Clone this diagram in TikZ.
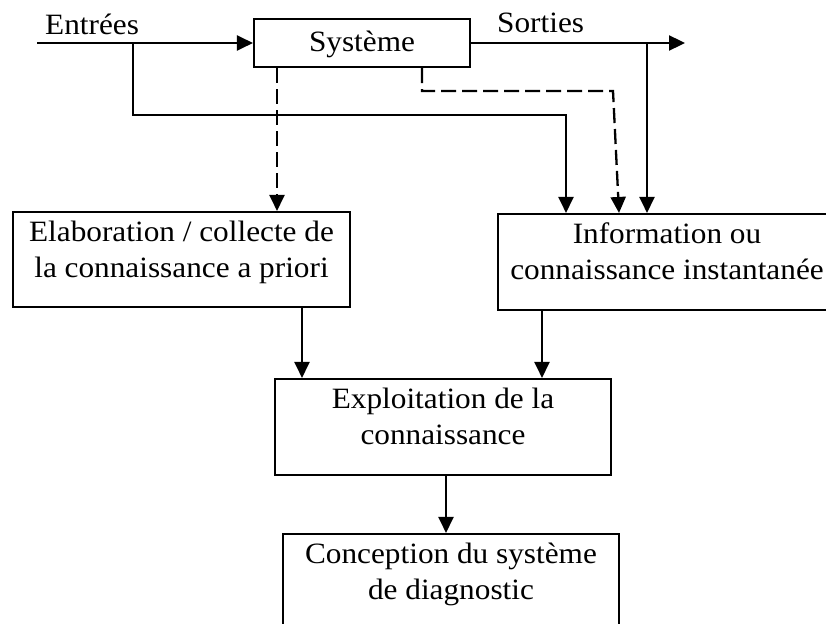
\documentclass[tikz,border=0pt]{standalone}
\usepackage{fontspec}
\setmainfont{Liberation Serif}[FakeStretch=1.06]
\usetikzlibrary{arrows.meta,positioning}

\begin{document}
\begin{tikzpicture}[x=1pt,y=-1pt,
  every node/.style={font=\fontsize{29.5}{36}\selectfont},
  box/.style={draw, line width=2.1pt, inner sep=0pt},
  lbl/.style={inner sep=0pt, align=center},
  link/.style={line width=2.3pt, -{Triangle[length=16pt,width=15pt]}},
  dashlink/.style={link, dash pattern=on 15pt off 6pt}]
\clip (0,0) rectangle (826,623);

% boxes
\node[box, minimum width=216pt, minimum height=48pt] (sys) at (362,43) {};
\node[anchor=base, inner sep=0pt] (sysT) at (362,52) {Système};

\node[box, minimum width=337pt, minimum height=95pt] (elab) at (181.5,259.5) {};
\node[lbl, below=10pt of elab.north] (elabT) {Elaboration / collecte de\\la connaissance a priori};

\node[box, minimum width=338pt, minimum height=96pt] (info) at (667,262) {};
\node[lbl, below=10pt of info.north] (infoT) {Information ou\\connaissance instantanée};

\node[box, minimum width=336pt, minimum height=96pt] (expl) at (443,427) {};
\node[lbl, below=10pt of expl.north] (explT) {Exploitation de la\\connaissance};

\node[box, minimum width=336pt, minimum height=96pt] (conc) at (451,582) {};
\node[lbl, below=10pt of conc.north] (concT) {Conception du système\\de diagnostic};

% signal labels
\node[anchor=base west, inner sep=0pt] (inLbl) at (45,35) {Entrées};
\node[anchor=base west, inner sep=0pt] (outLbl) at (497,33) {Sorties};

% helper coordinates
\coordinate (inStart) at (37,43);
\coordinate (outEnd) at (685,43);
\coordinate (inTap) at (133,43);
\coordinate (bypass) at (566,115);
\coordinate (outTap) at (647,43);
\coordinate (dA) at (277,0);
\coordinate (dB) at (422,0);
\coordinate (dC) at (613,91);
\coordinate (dD) at (619,0);
\coordinate (eA) at (302,0);
\coordinate (eB) at (542,0);
\coordinate (eC) at (446,0);

% inputs and outputs
\draw[link] (inStart) -- (sys.west);
\draw[link] (sys.east) -- (outEnd);
\draw[link] (inTap) |- (bypass) -- (bypass |- info.north);
\draw[link] (outTap) -- (outTap |- info.north);

% knowledge flows (dashed)
\draw[dashlink] (dA |- sys.south) -- (dA |- elab.north);
\draw[dashlink] (dB |- sys.south) |- (dC) -- (dD |- info.north);

% lower chain
\draw[link] (eA |- elab.south) -- (eA |- expl.north);
\draw[link] (eB |- info.south) -- (eB |- expl.north);
\draw[link] (eC |- expl.south) -- (eC |- conc.north);
\end{tikzpicture}
\end{document}
